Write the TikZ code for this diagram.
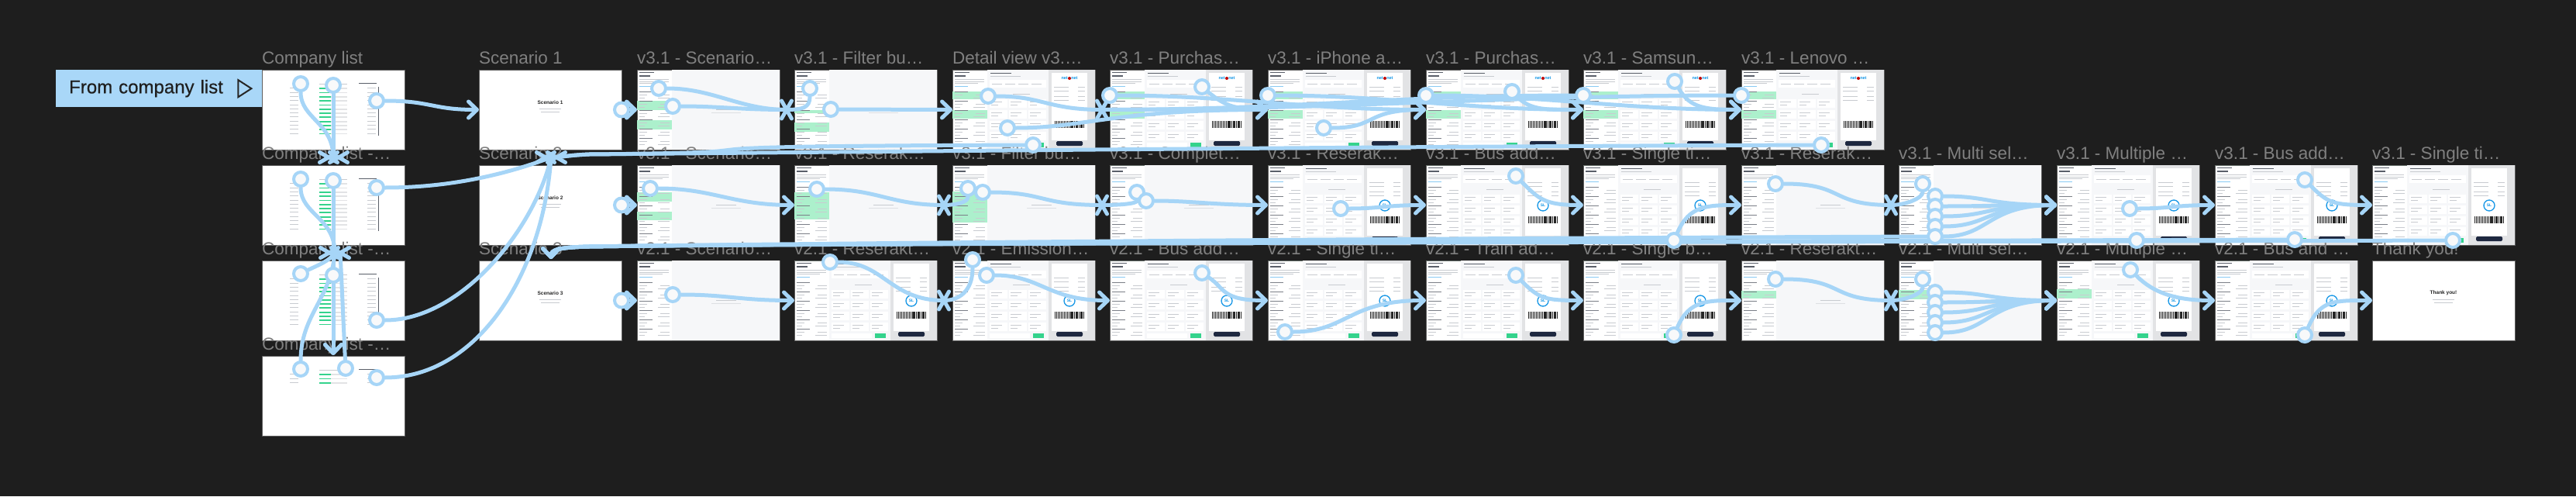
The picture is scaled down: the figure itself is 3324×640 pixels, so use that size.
\documentclass[tikz,border=0pt]{standalone}
\usepackage{fontspec}
\setmainfont{Liberation Sans}
\newfontfamily\medfont[FakeBold=0.5]{Liberation Sans}
\usetikzlibrary{arrows.meta,calc}
\pgfdeclarelayer{fg}
\pgfsetlayers{main,fg}
\definecolor{cBg}{RGB}{30,30,30}
\definecolor{cConn}{RGB}{166,213,247}
\definecolor{cBox}{RGB}{169,215,248}
\definecolor{cLbl}{RGB}{128,128,128}
\definecolor{cCirc}{RGB}{248,249,250}
\definecolor{cFr}{RGB}{95,95,95}
\definecolor{cPane}{RGB}{246,247,249}
\definecolor{cLine}{RGB}{200,203,208}
\definecolor{cDline}{RGB}{90,95,105}
\definecolor{cMint}{RGB}{172,240,204}
\definecolor{cGrn}{RGB}{52,211,140}
\definecolor{cRgray}{RGB}{226,227,229}
\definecolor{cNavy}{RGB}{30,40,64}
\definecolor{cSl}{RGB}{20,150,230}

\newcommand\leftpanel{%
  \fill[cDline] (3,3) rectangle (22,4.2);
  \fill[cDline] (3,7) rectangle (17,8.5);
  \fill[cLine] (3,12) rectangle (41,12.8);
  \fill[cLine] (3,14.6) rectangle (41,15.4);
  \fill[cLine] (3,17.2) rectangle (33,18);
  \fill[cSl!50] (3,20.5) rectangle (20,21.3);
  \foreach \yy in {28,40,52,64,76,88} {%
    \fill[cDline!80] (3,\yy) rectangle (20,\yy+1);
    \fill[cLine] (3,\yy+4) rectangle (13,\yy+4.8);
    \fill[cLine] (30,\yy+4) rectangle (42,\yy+4.8);
    \fill[cLine] (3,\yy+7.5) rectangle (10,\yy+8.3);
    \fill[cLine] (27,\yy+7.5) rectangle (42,\yy+8.3);}%
}
\newcommand\listbase[1]{%
  \fill[cPane] (45,0) rectangle (184,103);
  \foreach \ya/\yb in {#1} {\fill[cMint] (0,\ya) rectangle (45,\yb);}
  \leftpanel
  \fill[cLine] (102,51) rectangle (128,52.2);
  \fill[cLine!60] (96,54.5) rectangle (134,55.3);
}
\newcommand\detbase[1]{%
  \fill[cPane] (45,0) rectangle (124,103);
  \fill[cRgray] (124,0) rectangle (184,103);
  \foreach \ya/\yb in {#1} {\fill[cMint] (0,\ya) rectangle (45,\yb);}
  \leftpanel
  \fill[cDline] (49,4) rectangle (76,5.3);
  \fill[cLine] (49,8) rectangle (88,8.8);
  \fill[white] (48,13) rectangle (121,23);
  \foreach \xx in {51,68,85,102} {\fill[cLine] (\xx,17.5) rectangle (\xx+13,18.3);}
  \fill[cLine] (78,31) rectangle (100,31.8);
  \foreach \cx in {48,73,98} {\foreach \cy in {38,52,66,80} {%
    \fill[white] (\cx,\cy) rectangle (\cx+23,\cy+11);
    \fill[cLine] (\cx+2,\cy+3) rectangle (\cx+16,\cy+3.8);
    \fill[cLine] (\cx+2,\cy+6.5) rectangle (\cx+11,\cy+7.3);}}
  \fill[white] (48,94) rectangle (100,100);
  \fill[cGrn] (104,94) rectangle (118,99.5);
  \fill[white] (128,4) rectangle (174,91);
  \foreach \yy in {22,27,34,39} {\fill[cLine] (131,\yy) rectangle (150,\yy+0.8); \fill[cLine] (162,\yy) rectangle (171,\yy+0.8);}
  \foreach \i [evaluate=\i as \w using {0.5+0.45*mod(\i*7,3)}] in {0,...,19} {\fill[black!85] (132+\i*1.95,66) rectangle ++(\w,9);}
  \fill[cNavy, rounded corners=1.5pt] (134,92) rectangle (168,98);
}
\newcommand\netlogo{%
  \node[inner sep=0pt, font=\bfseries\fontsize{5.5}{5.5}\selectfont, text=cSl] (nlg) at (151,11) {net\hspace{4.5pt}net};
  \fill[red!75!black] (151,11) circle (2);
}
\newcommand\sllogo{%
  \draw[cSl, line width=1.3pt] (151,52) circle (7);
  \node[inner sep=0pt, font=\bfseries\fontsize{5}{5}\selectfont, text=cSl] (slg) at (151,52) {SL};
}
\newcommand\compbase[1]{%
  \fill[cLine] (74,17.5) rectangle (110,18.3);
  \fill[cDline] (125,17) rectangle (148,18);
  \ifnum#1>5 \fill[cDline] (149.5,22) rectangle (150.5,85);\fi
  \foreach \k in {1,...,#1} {%
    \fill[cLine] (36,18+\k*5.3) rectangle (47,18.8+\k*5.3);
    \fill[cGrn] (74,18+\k*5.3) rectangle (89,19.8+\k*5.3);
    \fill[cRgray] (89,18+\k*5.3) rectangle (110,19.8+\k*5.3);
    \fill[cLine] (136,18+\k*5.3) rectangle (147,18.8+\k*5.3);}%
}
\newcommand\frm[5]{%
  \node[frame] (#1) at (#2,#3) {};
  \node[lbl] (#1-l) at (#2,#3-8) {#4};
  \pic at (#2,#3) {#5};
}
\newcommand\backthree[1]{\draw[arr] (#1) .. controls +(-600,2) and (1100,313) .. (760,318) .. controls (722,319) and (711,322) .. (dS3);}
\newcommand\backtwo[1]{\draw[conn] (#1) .. controls +(-600,2) and (1100,196) .. (760,199) .. controls (738,200) and (726,202) .. ([xshift=7pt]xS2);}

\tikzset{
  pics/listscr/.style={code={\listbase{#1}}},
  pics/detnet/.style={code={\detbase{#1}\netlogo}},
  pics/detsl/.style={code={\detbase{#1}\sllogo}},
  pics/comp/.style={code={\compbase{#1}}},
  pics/scen/.style={code={%
    \node[inner sep=0pt, font=\bfseries\fontsize{6.5}{6.5}\selectfont, text=black!85] (stx) at (92,42) {#1};
    \fill[cLine] (78,50) rectangle (106,50.8);
    \fill[cLine] (80,53.5) rectangle (104,54.3);}},
  pics/xmk/.style={code={\draw[conn] (-6.5,-11.5) -- (6.5,11.5) (-6.5,11.5) -- (6.5,-11.5);}},
  pics/xmkv/.style={code={\draw[conn] (-11.5,-6.5) -- (11.5,6.5) (-11.5,6.5) -- (11.5,-6.5);}},
}

\begin{document}
\begin{tikzpicture}[x=1pt,y=-1pt,
  frame/.style={anchor=north west, fill=white, draw=cFr, line width=0.8pt, minimum width=184pt, minimum height=103pt, inner sep=0pt, outer sep=0pt},
  lbl/.style={anchor=base west, inner sep=0pt, text=cLbl, font=\fontsize{22.5}{22.5}\selectfont},
  conn/.style={draw=cConn, line width=5pt, line cap=round, line join=round},
  arr/.style={conn, -{Straight Barb[length=11pt,width=21pt,round]}},
  hot/.style={circle, draw=cConn, line width=4pt, fill=cCirc, minimum size=18pt, inner sep=0pt},
  startbox/.style={anchor=north west, fill=cBox, minimum height=48pt, text width=232pt, inner xsep=17pt, inner ysep=0pt, align=left, text=black!88, font=\medfont\fontsize{24}{24}\selectfont}
]
\useasboundingbox (0,0) rectangle (3324,640);
\fill[cBg] (0,0) rectangle (3324,640);

% start point
\node[startbox] (start) at (72,90) {From company list};
\draw[line width=2pt, black!85, line join=miter] ($(start.east)+(-31,-11)$) -- ($(start.east)+(-14,0)$) -- ($(start.east)+(-31,11)$) -- cycle;

% frames
\frm{r0c0}{338}{90}{Company list}{comp=12}
\frm{r0c1}{618}{90}{Scenario 1}{scen={Scenario 1}}
\frm{r0c2}{822}{90}{v3.1 - Scenario…}{listscr={40/52,65/77}}
\frm{r0c3}{1025}{90}{v3.1 - Filter bu…}{listscr={52/56,68/80}}
\frm{r0c4}{1229}{90}{Detail view v3.…}{detnet={28/38,52/63}}
\frm{r0c5}{1432}{90}{v3.1 - Purchas…}{detnet={28/38,52/63}}
\frm{r0c6}{1636}{90}{v3.1 - iPhone a…}{detnet={28/38,52/63}}
\frm{r0c7}{1840}{90}{v3.1 - Purchas…}{detnet={28/38,52/63}}
\frm{r0c8}{2043}{90}{v3.1 - Samsun…}{detnet={28/38,52/63}}
\frm{r0c9}{2247}{90}{v3.1 - Lenovo …}{detnet={28/38,52/63}}

\frm{r1c0}{338}{213}{Company list -…}{comp=12}
\frm{r1c1}{618}{213}{Scenario 2}{scen={Scenario 2}}
\frm{r1c2}{822}{213}{v3.1 - Scenario…}{listscr={35/47,60/71}}
\frm{r1c3}{1025}{213}{v3.1 - Reserak…}{listscr={35/70}}
\frm{r1c4}{1229}{213}{v3.1 - Filter bu…}{listscr={34/74}}
\frm{r1c5}{1432}{213}{v3.1 - Complet…}{listscr={0/0}}
\frm{r1c6}{1636}{213}{v3.1 - Reserak…}{detsl={0/0}}
\frm{r1c7}{1840}{213}{v3.1 - Bus add…}{detsl={0/0}}
\frm{r1c8}{2043}{213}{v3.1 - Single ti…}{detsl={0/0}}
\frm{r1c9}{2247}{213}{v3.1 - Reserak…}{listscr={0/0}}
\frm{r1c10}{2450}{213}{v3.1 - Multi sel…}{listscr={0/0}}
\frm{r1c11}{2654}{213}{v3.1 - Multiple …}{detsl={0/0}}
\frm{r1c12}{2858}{213}{v3.1 - Bus add…}{detsl={0/0}}
\frm{r1c13}{3061}{213}{v3.1 - Single ti…}{detsl={0/0}}

\frm{r2c0}{338}{336}{Company list -…}{comp=12}
\frm{r2c1}{618}{336}{Scenario 3}{scen={Scenario 3}}
\frm{r2c2}{822}{336}{v2.1 - Scenario…}{listscr={0/0}}
\frm{r2c3}{1025}{336}{v2.1 - Reserakt…}{detsl={0/0}}
\frm{r2c4}{1229}{336}{v2.1 - Emission…}{detsl={0/0}}
\frm{r2c5}{1432}{336}{v2.1 - Bus add…}{detsl={0/0}}
\frm{r2c6}{1636}{336}{v2.1 - Single ti…}{detsl={0/0}}
\frm{r2c7}{1840}{336}{v2.1 - Train ad…}{detsl={0/0}}
\frm{r2c8}{2043}{336}{v2.1 - Single b…}{detsl={0/0}}
\frm{r2c9}{2247}{336}{v2.1 - Reserakt…}{listscr={39/49}}
\frm{r2c10}{2450}{336}{v2.1 - Multi sel…}{listscr={38/50}}
\frm{r2c11}{2654}{336}{v2.1 - Multiple …}{detsl={37/49}}
\frm{r2c12}{2858}{336}{v2.1 - Bus and …}{detsl={0/0}}
\frm{r2c13}{3061}{336}{Thank you!}{scen={Thank you!}}

\frm{r3c0}{338}{459}{Company list -…}{comp=3}

% arrival points
\coordinate (xA) at (430,203);
\coordinate (xB) at (432,326);
\coordinate (xS2) at (711,203);
\coordinate (dD) at (430,458);
\coordinate (dS3) at (711,334);
\coordinate (x03) at (1015,141.5);
\coordinate (x05) at (1422,141.5);
\coordinate (x14) at (1218,264.5);
\coordinate (x15) at (1422,264.5);
\coordinate (x110) at (2440,264.5);
\coordinate (x24) at (1218,387.5);
\coordinate (x210) at (2440,387.5);

% hotspots
\begin{pgfonlayer}{fg}
\foreach \n/\x/\y in {hA1/388/108,hA2/430/110,hA3/486/130,hB1/388/231,hB2/430/233,hB3/486/242,hC1/388/353,hC2/430/355,hC3/486/413,hD1/388/476,hD2/446/475,hD3/486/487,
hP1/850/114,hP2/868/137,hQ1/1045/114,hQ2/1072/141,hR1/1275/124,hR2/1300/165,hR3/1333/187,hT1/1432/123,hT2/1551/112,hU1/1636/123,hU2/1708/165,hV1/1840/123,hV2/1951/118,hW1/2043/123,hW2/2161/105,hY1/2247/123,hY2/2350/187,
hE2/839/243,hE3/1054/244,hE4a/1249/243,hE4b/1268/248,hE5a/1467/248,hE5b/1479/259,hE6/1730/269,hE7/1956/227,hE8/2160/310,hE9/2291/237,hE10/2481/237,hF1/2497/253,hF2/2497/266,hF3/2497/279,hF4/2497/292,hF5/2497/305,hE11/2748/269,hE11b/2757/310,hE12/2974/232,hE12b/2961/309,hE13/3165/310,
hG2/868/380,hG3/1071/338,hG4a/1255/335,hG4b/1273/355,hG5/1551/352,hG6/1658/428,hG7/1956/355,hG8/2160/432,hG9/2291/360,hG10/2481/360,hK1/2497/377,hK2/2497/390,hK3/2497/403,hK4/2497/416,hK5/2497/429,hG11/2749/348,hG12/2974/432}
  {\node[hot] (\n) at (\x,\y) {};}
\node[hot] (hS1) at (r0c1.east) {};
\node[hot] (hS2) at (r1c1.east) {};
\node[hot] (hS3) at (r2c1.east) {};
\end{pgfonlayer}

% company list column
\draw[conn] (hA1) .. controls +(0,45) and +(0,-45) .. (xA);
\draw[conn] (hA2) -- (xA);
\draw[arr] (hA3) .. controls +(70,0) and +(-60,0) .. (r0c1.west);
\draw[conn] (hB1) .. controls +(0,45) and +(0,-45) .. (xB);
\draw[arr] (hB2) -- (dD);
\draw[arr] (hC2) -- (dD);
\draw[conn] (hC1) .. controls +(20,-10) and +(-5,10) .. (xB);
\draw[conn] (hD1) .. controls +(0,-70) and +(-5,60) .. (xB);
\draw[conn] (hD2) .. controls +(-3,-60) and +(3,60) .. ([xshift=7pt]xB);
\draw[conn] (hB3) .. controls +(110,0) and +(-40,15) .. (xS2);
\draw[conn] (hC3) .. controls +(110,0) and +(-20,90) .. (xS2);
\draw[conn] (hD3) .. controls +(130,0) and +(-10,150) .. (xS2);

% scenarios
\draw[arr] (hS1) -- (r0c2.west);
\draw[arr] (hS2) -- (r1c2.west);
\draw[arr] (hS3) -- (r2c2.west);

% row 1
\draw[conn] (hP1) .. controls +(70,0) and +(-60,0) .. (x03);
\draw[conn] (hP2) .. controls +(60,0) and +(-60,0) .. (x03);
\draw[conn] (hQ1) .. controls +(0,25) and +(20,0) .. (x03);
\draw[arr] (hQ2) -- (r0c4.west);
\draw[conn] (hR1) .. controls +(70,0) and +(-70,0) .. (x05);
\draw[arr] (hR2) .. controls +(100,0) and +(-200,0) .. (r0c6.west);
\backtwo{hR3}
\draw[arr] (hT1) .. controls +(150,0) and +(-150,0) .. (r0c7.west);
\draw[arr] (hT2) .. controls +(30,25) and +(-40,0) .. (r0c6.west);
\draw[arr] (hU1) .. controls +(150,0) and +(-150,0) .. (r0c8.west);
\draw[arr] (hU2) .. controls +(70,0) and +(-80,0) .. (r0c7.west);
\draw[arr] (hV1) .. controls +(150,0) and +(-150,0) .. (r0c9.west);
\draw[arr] (hV2) .. controls +(25,25) and +(-45,0) .. (r0c8.west);
\draw[conn] (hW1) .. controls +(-250,0) and +(250,0) .. (x05);
\draw[arr] (hW2) .. controls +(20,35) and +(-45,0) .. (r0c9.west);
\draw[conn] (hY1) .. controls +(-300,0) and +(300,0) .. (x05);
\backtwo{hY2}

% row 2
\draw[arr] (hE2) .. controls +(80,0) and +(-80,0) .. (r1c3.west);
\draw[conn] (hE3) .. controls +(80,0) and +(-70,0) .. (x14);
\draw[conn] (hE4a) .. controls +(0,18) and +(15,0) .. (x14);
\draw[conn] (hE4b) .. controls +(80,0) and +(-80,0) .. (x15);
\draw[conn] (hE5a) .. controls +(0,15) and +(20,0) .. (x15);
\draw[arr] (hE5b) .. controls +(60,0) and +(-70,0) .. (r1c6.west);
\draw[arr] (hE6) .. controls +(50,0) and +(-50,0) .. (r1c7.west);
\draw[arr] (hE7) .. controls +(30,30) and +(-50,0) .. (r1c8.west);
\draw[arr] (hE8) .. controls +(20,-45) and +(-45,0) .. (r1c9.west);
\draw[conn] (hE9) .. controls +(90,0) and +(-80,0) .. (x110);
\draw[conn] (hE10) .. controls +(0,18) and +(20,0) .. (x110);
\foreach \h in {hF1,hF2,hF3,hF4,hF5} {\draw[arr] (\h) .. controls +(70,0) and +(-90,0) .. (r1c11.west);}
\draw[arr] (hE11) .. controls +(50,0) and +(-50,0) .. (r1c12.west);
\draw[arr] (hE12) .. controls +(30,30) and +(-50,0) .. (r1c13.west);
\backthree{hE13}
\backthree{hE12b}
\backthree{hE11b}
\backthree{hF5}

% row 3
\draw[arr] (hG2) .. controls +(70,0) and +(-70,0) .. (r2c3.west);
\draw[conn] (hG3) .. controls +(70,0) and +(-70,0) .. (x24);
\draw[conn] (hG4a) .. controls +(0,40) and +(20,0) .. (x24);
\draw[arr] (hG4b) .. controls +(70,0) and +(-80,0) .. (r2c5.west);
\draw[arr] (hG5) .. controls +(30,20) and +(-60,0) .. (r2c6.west);
\draw[arr] (hG6) .. controls +(80,0) and +(-100,0) .. (r2c7.west);
\draw[arr] (hG7) .. controls +(30,30) and +(-50,0) .. (r2c8.west);
\draw[arr] (hG8) .. controls +(20,-45) and +(-45,0) .. (r2c9.west);
\draw[conn] (hG9) .. controls +(90,0) and +(-80,0) .. (x210);
\draw[conn] (hG10) .. controls +(0,18) and +(20,0) .. (x210);
\foreach \h in {hK1,hK2,hK3,hK4,hK5} {\draw[arr] (\h) .. controls +(70,0) and +(-90,0) .. (r2c11.west);}
\draw[arr] (hG11) .. controls +(30,30) and +(-50,0) .. (r2c12.west);
\draw[arr] (hG12) .. controls +(20,-45) and +(-50,0) .. (r2c13.west);

% crossed arrowheads
\pic at ([xshift=-6pt]xA) {xmkv};
\pic at ([xshift=7pt]xA) {xmkv};
\pic at ([xshift=-7pt]xB) {xmkv};
\pic at ([xshift=7pt]xB) {xmkv};
\pic at ([xshift=-7pt]xS2) {xmkv};
\pic at ([xshift=7pt]xS2) {xmkv};
\foreach \c in {x03,x05,x14,x15,x110,x24,x210} {\pic at (\c) {xmk};}
\end{tikzpicture}
\end{document}
